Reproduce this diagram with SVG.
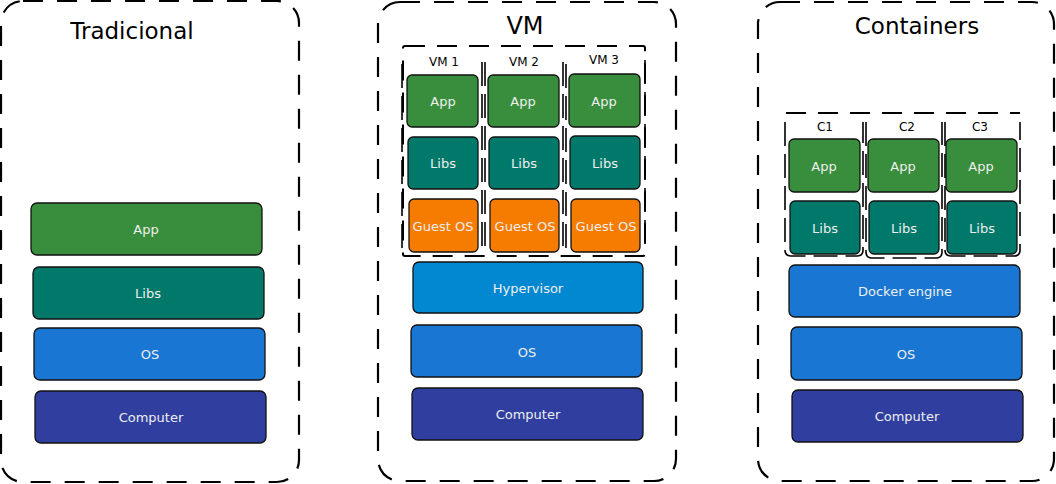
<svg xmlns="http://www.w3.org/2000/svg" width="1056" height="484" viewBox="0 0 1056 484">
<style>
.panel{fill:none;stroke:#000;stroke-width:2.2;stroke-dasharray:20 14}
.inner{fill:none;stroke:#000;stroke-width:2;stroke-dasharray:20 12}
.col{fill:none;stroke:#000;stroke-width:1.6;stroke-dasharray:24 8}
.box{stroke:#111;stroke-width:1.3}
.app{fill:#388E3C}.libs{fill:#00796B}.os{fill:#1976D2}.comp{fill:#303F9F}.guest{fill:#F57C00}.hyp{fill:#0288D1}
.t{font-family:"DejaVu Sans",sans-serif;font-size:13px;fill:#EEEEEE;text-anchor:middle;dominant-baseline:central}
.title{font-family:"DejaVu Sans",sans-serif;font-size:23px;fill:#000;text-anchor:middle}
.lbl{font-family:"DejaVu Sans",sans-serif;font-size:12px;fill:#000;text-anchor:middle}
</style>
<rect width="1056" height="484" fill="#fff"/>
<g id="tradicional">
<rect class="panel" x="1" y="1" width="298" height="481" rx="22"/>
<text class="title" x="132" y="39">Tradicional</text>
<g id="t-app"><rect class="box app" x="31" y="203" width="231" height="52" rx="6"/><text class="t" x="146" y="229">App</text></g>
<g id="t-libs"><rect class="box libs" x="33" y="267" width="231" height="52" rx="6"/><text class="t" x="148" y="293">Libs</text></g>
<g id="t-os"><rect class="box os" x="34" y="328" width="231" height="52" rx="6"/><text class="t" x="150" y="354">OS</text></g>
<g id="t-comp"><rect class="box comp" x="35" y="391" width="231" height="52" rx="6"/><text class="t" x="151" y="417">Computer</text></g>
</g>
<g id="vm">
<rect class="panel" x="378" y="2" width="298" height="479" rx="22"/>
<text class="title" x="525" y="34" style="font-size:24px">VM</text>
<rect class="inner" x="403" y="46" width="242" height="210" rx="2"/>
<g id="vm1">
<path class="col" d="M402 64 V252 M482 62 V252"/>
<text class="lbl" x="444" y="66">VM 1</text>
<g id="vm1-app"><rect class="box app" x="407" y="75" width="71" height="52" rx="5"/><text class="t" x="443" y="101">App</text></g>
<g id="vm1-libs"><rect class="box libs" x="408" y="137" width="70" height="52" rx="5"/><text class="t" x="443" y="163">Libs</text></g>
<g id="vm1-guest"><rect class="box guest" x="409" y="199" width="69" height="53" rx="5"/><text class="t" x="443" y="226">Guest OS</text></g>
</g>
<g id="vm2">
<path class="col" d="M485 62 V252 M563 62 V252"/>
<text class="lbl" x="524" y="66">VM 2</text>
<g id="vm2-app"><rect class="box app" x="488" y="75" width="71" height="52" rx="5"/><text class="t" x="523" y="101">App</text></g>
<g id="vm2-libs"><rect class="box libs" x="489" y="137" width="70" height="52" rx="5"/><text class="t" x="524" y="163">Libs</text></g>
<g id="vm2-guest"><rect class="box guest" x="490" y="199" width="69" height="53" rx="5"/><text class="t" x="525" y="226">Guest OS</text></g>
</g>
<g id="vm3">
<path class="col" d="M566 64 V252 M645 60 V252"/>
<text class="lbl" x="604" y="64">VM 3</text>
<g id="vm3-app"><rect class="box app" x="569" y="74" width="71" height="53" rx="5"/><text class="t" x="604" y="101">App</text></g>
<g id="vm3-libs"><rect class="box libs" x="570" y="136" width="70" height="53" rx="5"/><text class="t" x="605" y="163">Libs</text></g>
<g id="vm3-guest"><rect class="box guest" x="571" y="199" width="69" height="53" rx="5"/><text class="t" x="606" y="226">Guest OS</text></g>
</g>
<g id="vm-hyp"><rect class="box hyp" x="413" y="262" width="230" height="51" rx="6"/><text class="t" x="528" y="288">Hypervisor</text></g>
<g id="vm-os"><rect class="box os" x="411" y="325" width="231" height="52" rx="6"/><text class="t" x="527" y="352">OS</text></g>
<g id="vm-comp"><rect class="box comp" x="412" y="388" width="231" height="52" rx="6"/><text class="t" x="528" y="414">Computer</text></g>
</g>
<g id="containers">
<rect class="panel" x="758" y="2" width="296" height="479" rx="22"/>
<text class="title" x="917" y="34">Containers</text>
<path class="inner" d="M786 113 H1020"/>
<g id="c1">
<path class="col" d="M785 122 V250 Q785 256 791 256 H857 Q863 256 863 250 V122"/>
<text class="lbl" x="825" y="131">C1</text>
<g id="c1-app"><rect class="box app" x="789" y="139" width="71" height="53" rx="5"/><text class="t" x="824" y="166">App</text></g>
<g id="c1-libs"><rect class="box libs" x="790" y="201" width="70" height="53" rx="5"/><text class="t" x="825" y="228">Libs</text></g>
</g>
<g id="c2">
<path class="col" d="M866 122 V252 Q866 258 872 258 H936 Q942 258 942 252 V122"/>
<text class="lbl" x="907" y="131">C2</text>
<g id="c2-app"><rect class="box app" x="868" y="139" width="71" height="53" rx="5"/><text class="t" x="903" y="166">App</text></g>
<g id="c2-libs"><rect class="box libs" x="869" y="201" width="70" height="53" rx="5"/><text class="t" x="904" y="228">Libs</text></g>
</g>
<g id="c3">
<path class="col" d="M945 122 V250 Q945 256 951 256 H1014 Q1020 256 1020 250 V122"/>
<text class="lbl" x="980" y="131">C3</text>
<g id="c3-app"><rect class="box app" x="946" y="139" width="71" height="53" rx="5"/><text class="t" x="981" y="166">App</text></g>
<g id="c3-libs"><rect class="box libs" x="947" y="201" width="70" height="53" rx="5"/><text class="t" x="982" y="228">Libs</text></g>
</g>
<g id="c-docker"><rect class="box os" x="789" y="265" width="231" height="52" rx="6"/><text class="t" x="905" y="291">Docker engine</text></g>
<g id="c-os"><rect class="box os" x="791" y="327" width="231" height="53" rx="6"/><text class="t" x="906" y="354">OS</text></g>
<g id="c-comp"><rect class="box comp" x="792" y="390" width="231" height="52" rx="6"/><text class="t" x="907" y="416">Computer</text></g>
</g>
</svg>
